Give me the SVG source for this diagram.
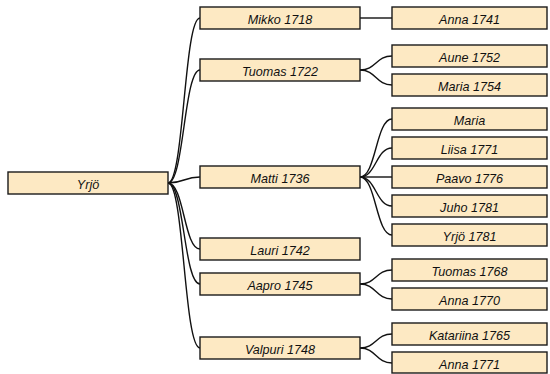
<svg xmlns="http://www.w3.org/2000/svg" width="550" height="374" viewBox="0 0 550 374">
<style>
.n rect{fill:#fde9c3;stroke:#1a1a1a;stroke-width:1.4}
.n text{font-family:"Liberation Sans",Arial,sans-serif;font-style:italic;font-size:12.6px;fill:#111;text-anchor:middle}
#links path{fill:none;stroke:#111;stroke-width:1.4}
</style>
<rect width="550" height="374" fill="#fff"/>
<g id="links">
<path d="M168,183 C184,183 184,18 200,18"/>
<path d="M168,183 C184,183 184,70 200,70"/>
<path d="M168,183 C184,183 184,177 200,177"/>
<path d="M168,183 C184,183 184,249 200,249"/>
<path d="M168,183 C184,183 184,284 200,284"/>
<path d="M168,183 C184,183 184,348 200,348"/>
<path d="M360,18 L392,18"/>
<path d="M360,70 C376,70 376,56 392,56"/>
<path d="M360,70 C376,70 376,85 392,85"/>
<path d="M360,177 C376,177 376,119 392,119"/>
<path d="M360,177 C376,177 376,148 392,148"/>
<path d="M360,177 C376,177 376,177 392,177"/>
<path d="M360,177 C376,177 376,206 392,206"/>
<path d="M360,177 C376,177 376,235 392,235"/>
<path d="M360,284 C376,284 376,270 392,270"/>
<path d="M360,284 C376,284 376,299 392,299"/>
<path d="M360,348 C376,348 376,334 392,334"/>
<path d="M360,348 C376,348 376,363 392,363"/>
</g>
<g id="n-yrjo" class="n"><rect x="8" y="172" width="160" height="22"/><text x="88" y="188.5">Yrjö</text></g>
<g id="n-mikko" class="n"><rect x="200" y="7" width="160" height="22"/><text x="280" y="23.5">Mikko 1718</text></g>
<g id="n-tuomas" class="n"><rect x="200" y="59" width="160" height="22"/><text x="280" y="75.5">Tuomas 1722</text></g>
<g id="n-matti" class="n"><rect x="200" y="166" width="160" height="22"/><text x="280" y="182.5">Matti 1736</text></g>
<g id="n-lauri" class="n"><rect x="200" y="238" width="160" height="22"/><text x="280" y="254.5">Lauri 1742</text></g>
<g id="n-aapro" class="n"><rect x="200" y="273" width="160" height="22"/><text x="280" y="289.5">Aapro 1745</text></g>
<g id="n-valpuri" class="n"><rect x="200" y="337" width="160" height="22"/><text x="280" y="353.5">Valpuri 1748</text></g>
<g id="n-anna1741" class="n"><rect x="392" y="7" width="155" height="22"/><text x="469.5" y="23.5">Anna 1741</text></g>
<g id="n-aune" class="n"><rect x="392" y="45" width="155" height="22"/><text x="469.5" y="61.5">Aune 1752</text></g>
<g id="n-maria1754" class="n"><rect x="392" y="74" width="155" height="22"/><text x="469.5" y="90.5">Maria 1754</text></g>
<g id="n-maria" class="n"><rect x="392" y="108" width="155" height="22"/><text x="469.5" y="124.5">Maria</text></g>
<g id="n-liisa" class="n"><rect x="392" y="137" width="155" height="22"/><text x="469.5" y="153.5">Liisa 1771</text></g>
<g id="n-paavo" class="n"><rect x="392" y="166" width="155" height="22"/><text x="469.5" y="182.5">Paavo 1776</text></g>
<g id="n-juho" class="n"><rect x="392" y="195" width="155" height="22"/><text x="469.5" y="211.5">Juho 1781</text></g>
<g id="n-yrjo1781" class="n"><rect x="392" y="224" width="155" height="22"/><text x="469.5" y="240.5">Yrjö 1781</text></g>
<g id="n-tuomas1768" class="n"><rect x="392" y="259" width="155" height="22"/><text x="469.5" y="275.5">Tuomas 1768</text></g>
<g id="n-anna1770" class="n"><rect x="392" y="288" width="155" height="22"/><text x="469.5" y="304.5">Anna 1770</text></g>
<g id="n-katariina" class="n"><rect x="392" y="323" width="155" height="22"/><text x="469.5" y="339.5">Katariina 1765</text></g>
<g id="n-anna1771" class="n"><rect x="392" y="352" width="155" height="21"/><text x="469.5" y="368.5">Anna 1771</text></g>
</svg>
